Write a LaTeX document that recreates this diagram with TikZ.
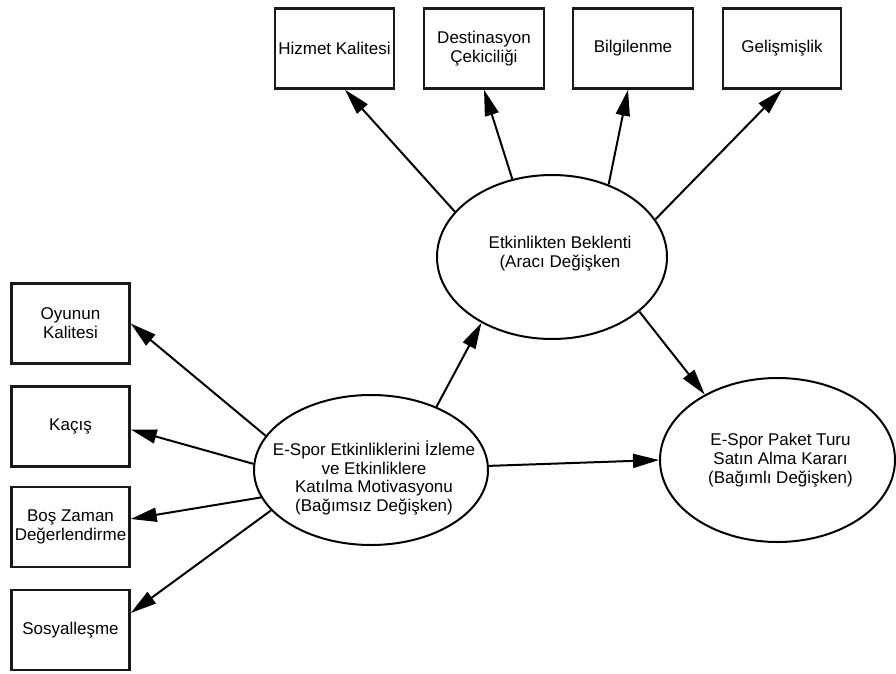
\documentclass[tikz,border=0pt]{standalone}
\usepackage{fontspec}
\setmainfont{Liberation Sans}
\usetikzlibrary{arrows.meta,calc,shapes.geometric}
\begin{document}
\begin{tikzpicture}[x=1pt,y=-1pt,
  txt/.style={align=center,font=\fontsize{17}{18.8}\selectfont},
  box/.style={txt,draw=black!90,line width=2.5pt,minimum width=119pt,minimum height=80pt,inner sep=0pt},
  oval/.style={draw,ellipse,line width=2pt,inner sep=0pt},
  arr/.style={line width=2pt,-{Triangle[length=26pt,width=14pt]}}]
\useasboundingbox (0,0) rectangle (896,674);
% top boxes
\node[box] (hizmet) at (334.5,48.5) {Hizmet Kalitesi};
\node[box,minimum width=120pt] (dest) at (484,48.5) {Destinasyon\\Çekiciliği};
\node[box,minimum width=120pt] (bilgi) at (633,48.5) {Bilgilenme};
\node[box,minimum width=118pt] (gelis) at (782,48.5) {Gelişmişlik};
% left boxes
\node[box,minimum width=118pt] (oyunun) at (70.5,323.5) {Oyunun\\Kalitesi};
\node[box,minimum width=118pt] (kacis) at (70.5,426.5) {Kaçış};
\node[box,minimum width=118pt] (bos) at (70.5,527) {Boş Zaman\\Değerlendirme};
\node[box,minimum width=118pt] (sosyal) at (70.5,630) {Sosyalleşme};
% ellipses
\node[oval,minimum width=230pt,minimum height=164pt,
  label={[txt,xshift=8pt,yshift=3pt]center:Etkinlikten Beklenti\\(Aracı Değişken}] (beklenti) at (552,257) {};
\node[oval,minimum width=234pt,minimum height=150pt,
  label={[txt,xshift=3pt,yshift=-8pt]center:E-Spor Etkinliklerini İzleme\\ve Etkinliklere\\Katılma Motivasyonu\\(Bağımsız Değişken)}] (main) at (371,470) {};
\node[oval,minimum width=235pt,minimum height=164pt,
  label={[txt,xshift=3pt]center:E-Spor Paket Turu\\Satın Alma Kararı\\(Bağımlı Değişken)}] (karar) at (777.5,460) {};
% connectors
\draw[arr] (beklenti.155) -- ($(hizmet.south)+(10.5,0)$);
\draw[arr] (beklenti.117.5) -- (dest.south);
\draw[arr] (beklenti.52) -- ($(bilgi.south)+(-5,0)$);
\draw[arr] (beklenti.20) -- (gelis.south);
\draw[arr] (main.162) -- (oyunun.east);
\draw[arr] (main.177) -- ($(kacis.east)+(0,3)$);
\draw[arr] (main.-166) -- ($(bos.east)+(0,-8)$);
\draw[arr] (main.-158) -- ($(sosyal.east)+(0,-17)$);
\draw[arr] (main.44) -- (beklenti.-137);
\draw[arr] (main.2) -- (karar.180);
\draw[arr] (beklenti.-32) -- (karar.138);
\end{tikzpicture}
\end{document}
